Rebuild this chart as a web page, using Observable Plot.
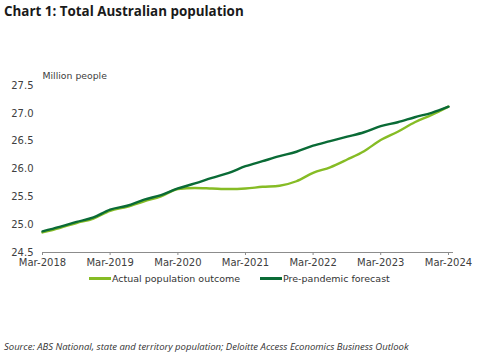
<!DOCTYPE html>
<html>
<head>
<meta charset="utf-8">
<script src="https://cdn.jsdelivr.net/npm/d3@7"></script>
<script src="https://cdn.jsdelivr.net/npm/@observablehq/plot@0.6"></script>
<style>
  html, body { margin: 0; padding: 0; background: #fff; }
  body { width: 486px; height: 361px; position: relative; overflow: hidden; }
  #title { position: absolute; left: 4px; top: 2px; font: bold 13.4px "Open Sans", sans-serif; color: #1a1a1a; white-space: nowrap; }
  #chart { position: absolute; left: 0; top: 0; }
  #legend { position: absolute; top: 273px; left: 0; width: 486px; height: 14px; font: 9.5px "DejaVu Sans", sans-serif; color: #333; }
  #legend .item { position: absolute; top: 0; display: flex; align-items: center; white-space: nowrap; }
  #legend .sw { width: 22px; height: 3px; display: inline-block; margin-right: 1px; }
  #caption { position: absolute; left: 4px; top: 340px; font: italic 9.5px "Open Sans", sans-serif; color: #333; white-space: nowrap; }
</style>
</head>
<body>
<div id="title">Chart 1: Total Australian population</div>
<div id="chart"></div>
<div id="legend"></div>
<div id="caption">Source: ABS National, state and territory population; Deloitte Access Economics Business Outlook</div>
<script>
const quarters = ["2018-03","2018-06","2018-09","2018-12","2019-03","2019-06","2019-09","2019-12",
  "2020-03","2020-06","2020-09","2020-12","2021-03","2021-06","2021-09","2021-12",
  "2022-03","2022-06","2022-09","2022-12","2023-03","2023-06","2023-09","2023-12","2024-03"];
const actual = [24.86,24.94,25.03,25.11,25.25,25.32,25.42,25.51,
  25.64,25.66,25.65,25.64,25.65,25.68,25.70,25.78,
  25.93,26.03,26.17,26.32,26.52,26.67,26.84,26.97,27.12];
const forecast = [24.88,24.96,25.05,25.13,25.27,25.34,25.45,25.53,
  25.65,25.74,25.84,25.93,26.05,26.14,26.23,26.31,
  26.42,26.50,26.58,26.66,26.77,26.84,26.93,27.01,27.12];
const seriesNames = ["Actual population outcome","Pre-pandemic forecast"];
const seriesColors = ["#86bc25","#0a6b36"];
const xTickLabels = ["Mar-2018","Mar-2019","Mar-2020","Mar-2021","Mar-2022","Mar-2023","Mar-2024"];
const yTicks = [24.5,25.0,25.5,26.0,26.5,27.0,27.5];

const parse = d3.utcParse("%Y-%m");
const rows = [];
quarters.forEach((q, i) => {
  rows.push({date: parse(q), value: actual[i], series: seriesNames[0]});
  rows.push({date: parse(q), value: forecast[i], series: seriesNames[1]});
});
const xTicks = xTickLabels.map(s => d3.utcParse("%b-%Y")(s));
const fmt = d3.utcFormat("%b-%Y");

const plot = Plot.plot({
  width: 486,
  height: 300,
  marginLeft: 42,
  marginRight: 33,
  marginTop: 85,
  marginBottom: 48,
  style: {fontFamily: "DejaVu Sans, sans-serif", fontSize: "10px", color: "#404040", background: "transparent"},
  x: {type: "utc", domain: [parse("2018-03"), new Date(Date.UTC(2024, 2, 28))]},
  y: {domain: [24.5, 27.5]},
  color: {domain: seriesNames, range: seriesColors},
  marks: [
    Plot.ruleY([24.5], {stroke: "#8c8c8c", strokeWidth: 1}),
    Plot.axisX({ticks: xTicks, tickFormat: fmt, tickSize: 3, tickPadding: 3, stroke: "#8c8c8c", label: null, fill: "#404040"}),
    Plot.axisY({ticks: yTicks, tickFormat: d3.format(".1f"), tickSize: 0, tickPadding: 9, label: null, fill: "#404040"}),
    Plot.text(["Million people"], {frameAnchor: "top-left", dy: -13, textAnchor: "start", fontSize: 9.3, fill: "#404040"}),
    Plot.line(rows.filter(d => d.series === seriesNames[0]), {x: "date", y: "value", stroke: "series", strokeWidth: 2.4, curve: "monotone-x"}),
    Plot.line(rows.filter(d => d.series === seriesNames[1]), {x: "date", y: "value", stroke: "series", strokeWidth: 2.4, curve: "monotone-x"})
  ]
});
document.getElementById("chart").appendChild(plot);

const legend = document.getElementById("legend");
const lefts = [89, 260];
seriesNames.forEach((n, i) => {
  const it = document.createElement("div");
  it.className = "item";
  it.style.left = lefts[i] + "px";
  it.innerHTML = `<span class="sw" style="background:${seriesColors[i]}"></span><span>${n}</span>`;
  legend.appendChild(it);
});
</script>
</body>
</html>
